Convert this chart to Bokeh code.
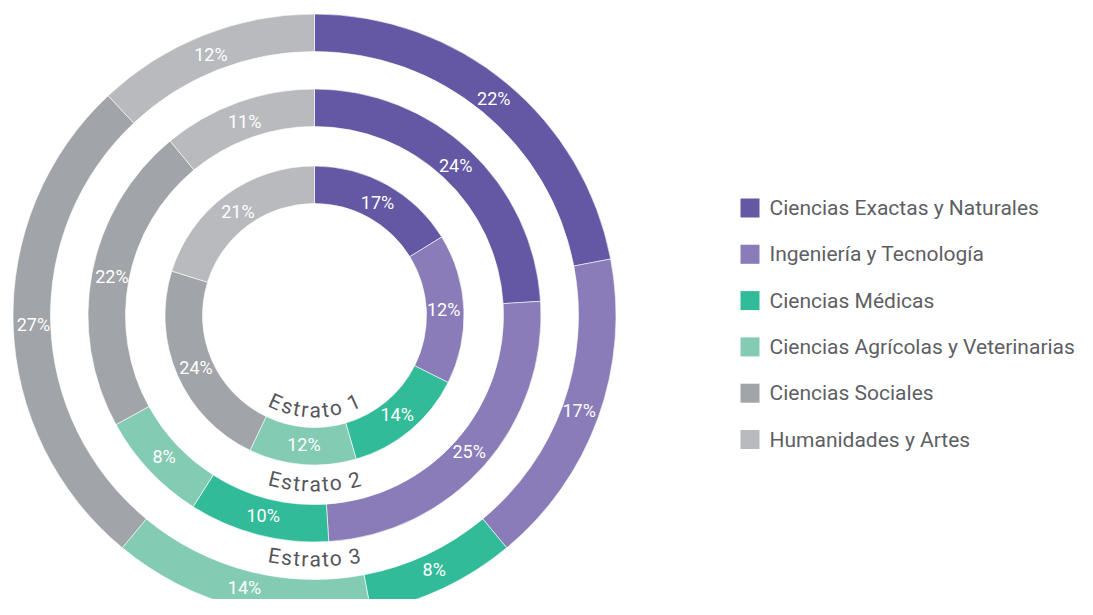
import numpy as np
from bokeh.plotting import figure
from bokeh.models import Range1d, ColumnDataSource
from bokeh.core.properties import value
from bokeh.embed import file_html
from bokeh.resources import INLINE

# ---------------- data ----------------
categories = ["Ciencias Exactas y Naturales", "Ingeniería y Tecnología", "Ciencias Médicas",
              "Ciencias Agrícolas y Veterinarias", "Ciencias Sociales", "Humanidades y Artes"]
colors = ["#6457a4", "#8a7cb8", "#32bb98", "#83cbb2", "#a1a4a8", "#b9babd"]
strata = ["Estrato 1", "Estrato 2", "Estrato 3"]

# printed percentages
estrato1_pct = [17, 12, 14, 12, 24, 21]
estrato2_pct = [24, 25, 10, 8, 22, 11]
estrato3_pct = [22, 17, 8, 14, 27, 12]
# arc shares as drawn in the picture (inner ring's arcs differ from its printed labels)
estrato1_arc = [16.2, 16.2, 13.1, 11.6, 22.7, 20.2]
estrato2_arc = [24, 25, 10, 8, 22, 11]
estrato3_arc = [22, 17, 8, 14, 27, 12]

# ---------------- layout ----------------
W, H = 1077, 599
CX, CY = 314, 284
RING_INNER = [112, 189, 264]
RING_WIDTH = 37.5
LABEL_INSET = 1.5
FONT = "Roboto"

p = figure(width=W, height=H, x_range=Range1d(0, W), y_range=Range1d(0, H),
           x_axis_type=None, y_axis_type=None, toolbar_location=None,
           output_backend="svg", min_border=0, outline_line_color=None)
p.grid.visible = False
p.background_fill_color = "white"
p.border_fill_color = "white"

rings = [(estrato1_arc, estrato1_pct), (estrato2_arc, estrato2_pct), (estrato3_arc, estrato3_pct)]

for (arc, pct), r0 in zip(rings, RING_INNER):
    arc = np.array(arc, dtype=float)
    frac = arc / arc.sum()
    c1 = np.cumsum(frac)
    c0 = c1 - frac
    start = np.pi / 2 - 2 * np.pi * c0
    end = np.pi / 2 - 2 * np.pi * c1
    src = ColumnDataSource(dict(x=[CX] * len(arc), y=[CY] * len(arc),
                                start=start, end=end, color=colors))
    p.annular_wedge(x="x", y="y", inner_radius=r0, outer_radius=r0 + RING_WIDTH,
                    start_angle="start", end_angle="end", direction="clock",
                    fill_color="color", line_color="white", line_width=0.6, source=src)
    rm = r0 + RING_WIDTH / 2 - LABEL_INSET
    mid = np.pi / 2 - 2 * np.pi * (c0 + c1) / 2
    lsrc = ColumnDataSource(dict(x=CX + rm * np.cos(mid), y=CY + rm * np.sin(mid),
                                 t=[f"{v}%" for v in pct]))
    p.text(x="x", y="y", text="t", source=lsrc, text_align="center", text_baseline="middle",
           text_color="white", text_font=value(FONT), text_font_size="18px")

# ---------------- curved "Estrato n" labels ----------------
CHAR_EM = {"E": 0.568, "s": 0.517, "t": 0.327, "r": 0.338, "a": 0.544, "o": 0.556,
           " ": 0.248, "1": 0.562, "2": 0.562, "3": 0.562}
ES_SIZE = 21
TRACK = 1.1
OFFSETS = [17, 20, 20]
for name, r0, off in zip(strata, RING_INNER, OFFSETS):
    rr = r0 - off
    widths = [CHAR_EM.get(ch, 0.55) * ES_SIZE for ch in name]
    total = sum(widths) + TRACK * (len(name) - 1)
    s = -total / 2
    xs, ys, angs, chs = [], [], [], []
    for ch, w in zip(name, widths):
        sc = s + w / 2
        th = -np.pi / 2 + sc / rr
        xs.append(CX + rr * np.cos(th))
        ys.append(CY + rr * np.sin(th))
        angs.append(th + np.pi / 2)
        chs.append(ch)
        s += w + TRACK
    esrc = ColumnDataSource(dict(x=xs, y=ys, a=angs, t=chs))
    p.text(x="x", y="y", text="t", angle="a", source=esrc, text_align="center",
           text_baseline="middle", text_color="#55565b", text_font=value(FONT),
           text_font_size=f"{ES_SIZE}px")

# ---------------- legend ----------------
LEG_X = 749.5        # square centre (data units)
LEG_Y0 = 391.5       # first row centre
LEG_DY = 46.3
SQ = 19
TXT_X = 769
n = len(categories)
ly = [LEG_Y0 - i * LEG_DY for i in range(n)]
lsrc = ColumnDataSource(dict(x=[LEG_X] * n, y=ly, tx=[TXT_X] * n, c=colors, t=categories))
p.rect(x="x", y="y", width=SQ, height=SQ, fill_color="c", line_color=None, source=lsrc)
p.text(x="tx", y="y", text="t", source=lsrc, text_align="left", text_baseline="middle",
       text_color="#5e5f64", text_font=value(FONT), text_font_size="21px")

open("out.html", "w").write(file_html(p, INLINE))
